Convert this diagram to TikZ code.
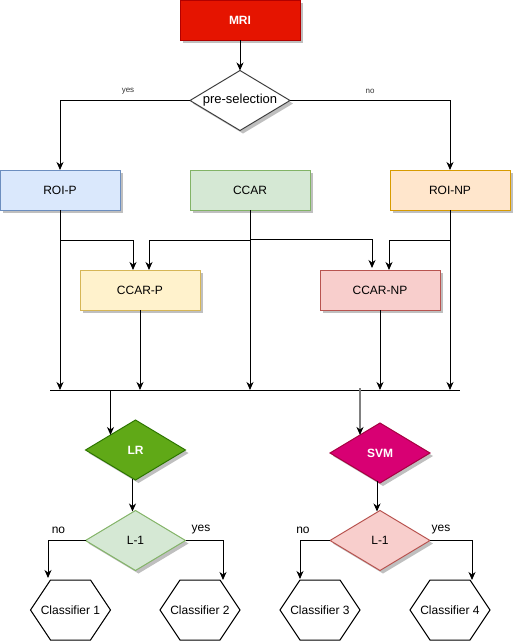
\documentclass[tikz,border=0pt]{standalone}
\usepackage{fontspec}
\setmainfont{Liberation Sans}
\usetikzlibrary{shapes.geometric,shadows,calc,arrows.meta}
\definecolor{mrifill}{HTML}{E51400}\definecolor{mriline}{HTML}{B20000}
\definecolor{bluefill}{HTML}{DAE8FC}\definecolor{blueline}{HTML}{6C8EBF}
\definecolor{greenfill}{HTML}{D5E8D4}\definecolor{greenline}{HTML}{82B366}
\definecolor{orangefill}{HTML}{FFE6CC}\definecolor{orangeline}{HTML}{D79B00}
\definecolor{yellowfill}{HTML}{FFF2CC}\definecolor{yellowline}{HTML}{D6B656}
\definecolor{redfill}{HTML}{F8CECC}\definecolor{redline}{HTML}{B85450}
\definecolor{lrfill}{HTML}{60A917}\definecolor{lrline}{HTML}{2D7600}
\definecolor{svmfill}{HTML}{D80073}\definecolor{svmline}{HTML}{A50040}
\definecolor{lblgray}{HTML}{333333}
\begin{document}
\begin{tikzpicture}[x=1pt,y=-1pt,
  font=\fontsize{12}{14}\selectfont,
  shadowed/.style={drop shadow={shadow xshift=3pt,shadow yshift=-3pt,fill=black!25,opacity=1}},
  arr/.style={draw=black,line width=1pt,-{Stealth[length=8pt,width=7pt,inset=2.5pt]}},
  grayarr/.style={draw=black!50,line width=1.3pt,-{Stealth[length=8pt,width=7pt,inset=2.5pt,color=black]}},
  conn/.style={draw=black,line width=1pt},
  box/.style={rectangle,draw,line width=1pt,minimum width=120pt,minimum height=40pt,inner sep=0pt,outer sep=0pt,shadowed},
  dia/.style={diamond,draw,line width=1pt,minimum width=100pt,minimum height=60pt,inner sep=0pt,outer sep=0pt,aspect=1.667,shadowed},
  hexnode/.style={rectangle,minimum width=80pt,minimum height=60pt,inner sep=0pt,outer sep=0pt},
  hexline/.style={draw=black,line width=1pt},
  smalllbl/.style={font=\fontsize{8}{9}\selectfont,text=lblgray,inner sep=0pt},
  lbl/.style={font=\fontsize{12}{14}\selectfont,inner sep=0pt}
]
\useasboundingbox (0,0) rectangle (513,641);

% top part
\node[box,fill=mrifill,draw=mriline,text=white,font=\fontsize{12}{14}\selectfont\bfseries] (mri) at (240,20) {MRI};
\node[dia,fill=white,draw=black!75,font=\fontsize{13}{15}\selectfont] (pre) at (240,100.5) {pre-selection};
\node[box,fill=bluefill,draw=blueline] (roip) at (60,190) {ROI-P};
\node[box,fill=greenfill,draw=greenline] (ccar) at (250,190) {CCAR};
\node[box,fill=orangefill,draw=orangeline] (roinp) at (450,190) {ROI-NP};
\node[box,fill=yellowfill,draw=yellowline] (ccarp) at (140,290) {CCAR-P};
\node[box,fill=redfill,draw=redline] (ccarnp) at (380,290) {CCAR-NP};

\draw[arr] (mri.south) -- (pre.north);
\draw[arr] (pre.west) -| (roip.north);
\draw[arr] (pre.east) -| (roinp.north);
\node[smalllbl] (yeslbl) at (128,91) {yes};
\node[smalllbl] (nolbl) at (370,91) {no};

% bus
\coordinate (busL) at (50,390);
\coordinate (busR) at (460,390);
\coordinate (jy) at (0,240);
\draw[conn] (busL) -- (busR);

\draw[arr] (roip.south) -- (roip.south |- busL);
\draw[arr] (roip.south |- jy) -| ($(ccarp.north)+(-7,0)$);
\draw[arr] (ccar.south) -- (ccar.south |- busL);
\draw[arr] (ccar.south |- jy) -| ($(ccarp.north)+(9,0)$);
\draw[arr] ($(ccar.south |- jy)+(0,-0.8)$) -| ($(ccarnp.north)+(-8,-2)$);
\draw[arr] (roinp.south) -- (roinp.south |- busL);
\draw[arr] (roinp.south |- jy) -| ($(ccarnp.north)+(9,0)$);
\draw[arr] (ccarp.south) -- (ccarp.south |- busL);
\draw[arr] (ccarnp.south) -- (ccarnp.south |- busL);

% classifiers
\node[dia,fill=lrfill,draw=lrline,text=white,font=\fontsize{12}{14}\selectfont\bfseries] (lr) at (135.5,450) {LR};
\node[dia,fill=svmfill,draw=svmline,text=white,font=\fontsize{12}{14}\selectfont\bfseries] (svm) at (380,453) {SVM};
\node[dia,fill=greenfill,draw=greenline] (l1a) at (135.5,540.5) {L-1};
\node[dia,fill=redfill,draw=redline] (l1b) at (380,540.5) {L-1};

\coordinate (lrin) at ($(lr.west)!0.5!(lr.north)$);
\coordinate (svmin) at ($(svm.west)!0.6!(svm.north)$);
\draw[arr] (lrin |- busL) -- (lrin);
\draw[grayarr] ($(svmin |- busL)+(0,-2)$) -- (svmin);
\draw[arr] ($(lr.south)+(-3,-1)$) -- ($(l1a.north)+(-3,1)$);
\draw[arr] ($(svm.south)+(-3,-2)$) -- ($(l1b.north)+(-3,1)$);

\newcommand\hexdraw[1]{%
  \draw[hexline] (#1.west) -- ($(#1.north west)!0.25!(#1.north east)$) -- ($(#1.north west)!0.75!(#1.north east)$) -- (#1.east) -- ($(#1.south west)!0.75!(#1.south east)$) -- ($(#1.south west)!0.25!(#1.south east)$) -- cycle;}
\node[hexnode] (c1) at (70.5,610) {Classifier 1};
\node[hexnode] (c2) at (200,610) {Classifier 2};
\node[hexnode] (c3) at (320,610) {Classifier 3};
\node[hexnode] (c4) at (450,610) {Classifier 4};
\hexdraw{c1}\hexdraw{c2}\hexdraw{c3}\hexdraw{c4}

\draw[arr] (l1a.west) -| ($(c1.north)+(-22.5,-2)$);
\draw[arr] (l1a.east) -| ($(c2.north)+(23,0)$);
\draw[arr] (l1b.west) -| ($(c3.north)+(-20,-1)$);
\draw[arr] (l1b.east) -| ($(c4.north)+(22,0)$);
\node[lbl] (no1) at (58.5,530) {no};
\node[lbl] (yes1) at (201,530) {yes};
\node[lbl] (no2) at (303,530) {no};
\node[lbl] (yes2) at (441,530) {yes};
\end{tikzpicture}
\end{document}
